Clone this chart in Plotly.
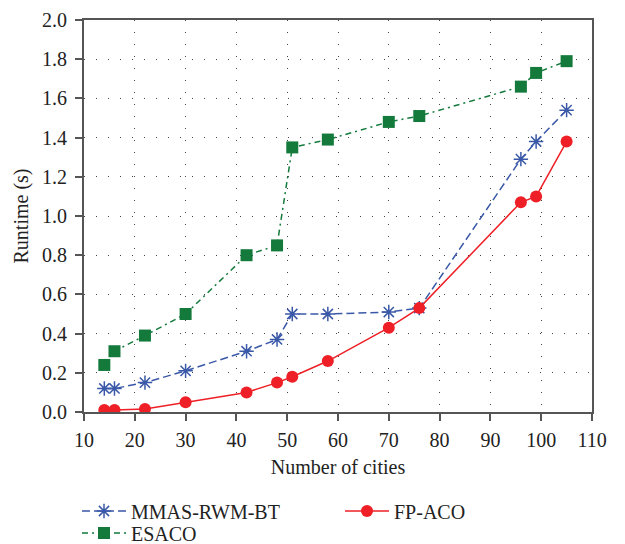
import plotly.graph_objects as go

# Problem sizes (number of cities) and runtimes in seconds
cities = [14, 16, 22, 30, 42, 48, 51, 58, 70, 76, 96, 99, 105]
mmas_rwm_bt = [0.12, 0.12, 0.15, 0.21, 0.31, 0.37, 0.50, 0.50, 0.51, 0.53, 1.29, 1.38, 1.54]
esaco = [0.24, 0.31, 0.39, 0.50, 0.80, 0.85, 1.35, 1.39, 1.48, 1.51, 1.66, 1.73, 1.79]
fp_aco = [0.01, 0.01, 0.015, 0.05, 0.10, 0.15, 0.18, 0.26, 0.43, 0.53, 1.07, 1.10, 1.38]

x_ticks = [10, 20, 30, 40, 50, 60, 70, 80, 90, 100, 110]
y_ticks = [0.0, 0.2, 0.4, 0.6, 0.8, 1.0, 1.2, 1.4, 1.6, 1.8, 2.0]

BLUE = "#3A58A8"
GREEN = "#137A3B"
RED = "#EE1F26"
TEXT = "#222222"
FONT = "Liberation Serif"

fig = go.Figure()

fig.add_trace(go.Scatter(
    x=cities, y=mmas_rwm_bt, name="MMAS-RWM-BT", mode="lines+markers",
    line=dict(color=BLUE, width=1.5, dash="8px,4px"),
    marker=dict(symbol="asterisk-open", size=12, color=BLUE, line=dict(color=BLUE, width=1.5)),
    legend="legend",
))
fig.add_trace(go.Scatter(
    x=cities, y=fp_aco, name="FP-ACO", mode="lines+markers",
    line=dict(color=RED, width=1.5),
    marker=dict(symbol="circle", size=12, color=RED),
    legend="legend2",
))
fig.add_trace(go.Scatter(
    x=cities, y=esaco, name="ESACO", mode="lines+markers",
    line=dict(color=GREEN, width=1.5, dash="6px,4px,2px,4px"),
    marker=dict(symbol="square", size=12, color=GREEN),
    legend="legend3",
))

axis_common = dict(
    showline=True, linecolor="#555555", linewidth=2, mirror=True,
    ticks="outside", ticklen=7, tickwidth=1.5, tickcolor="#555555",
    showgrid=True, gridcolor="#444444", gridwidth=1, griddash="1px,11px",
    zeroline=False, automargin=False,
    tickfont=dict(family=FONT, size=20, color=TEXT),
)

fig.update_xaxes(
    range=[10, 110], tickvals=x_ticks, ticktext=[str(v) for v in x_ticks],
    title=dict(text="Number of cities", font=dict(family=FONT, size=20, color=TEXT), standoff=10),
    ticklabelstandoff=2,
    **axis_common,
)
fig.update_yaxes(
    range=[0, 2.0], tickvals=y_ticks, ticktext=[f"{v:.1f}" for v in y_ticks],
    title=dict(text="Runtime (s)", font=dict(family=FONT, size=20, color=TEXT), standoff=8),
    ticklabelstandoff=4,
    **axis_common,
)

# One legend box per entry so each can sit at its own spot below the axes
legend_common = dict(
    orientation="h", xanchor="left", yanchor="middle",
    xref="container", yref="container",
    font=dict(family=FONT, size=20, color=TEXT),
    bgcolor="rgba(0,0,0,0)", itemwidth=44,
)

fig.update_layout(
    width=625, height=544,
    margin=dict(l=84, r=33, t=20, b=132, autoexpand=False),
    paper_bgcolor="white", plot_bgcolor="white",
    font=dict(family=FONT, size=20, color=TEXT),
    showlegend=True,
    legend=dict(x=77 / 625, y=(544 - 511) / 544, **legend_common),
    legend2=dict(x=340 / 625, y=(544 - 511) / 544, **legend_common),
    legend3=dict(x=77 / 625, y=(544 - 533) / 544, **legend_common),
)

fig.write_html("out.html")
